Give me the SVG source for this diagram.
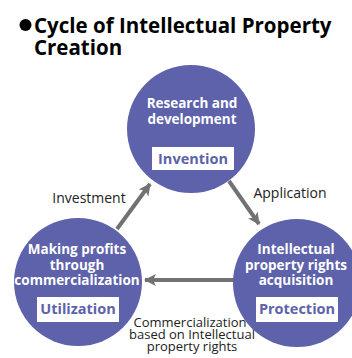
<svg xmlns="http://www.w3.org/2000/svg" width="352" height="358" viewBox="0 0 352 358">
<defs>
<style>
.c{fill:#5d62aa}
.t{font-family:"Open Sans","Liberation Sans",sans-serif;font-weight:bold;font-size:13.5px;fill:#fff;text-anchor:middle}
.b{fill:#fff}
.bt{font-family:"Open Sans","Liberation Sans",sans-serif;font-weight:bold;font-size:14.5px;fill:#5d62aa;text-anchor:middle}
.l{font-family:"Open Sans","Liberation Sans",sans-serif;font-size:14px;fill:#222;text-anchor:middle}
.s{font-family:"Open Sans","Liberation Sans",sans-serif;font-size:13px;fill:#222;text-anchor:middle}
.a{stroke:#727272;stroke-width:4;fill:none}
.title{font-family:"Open Sans","Liberation Sans",sans-serif;font-weight:bold;font-size:20.5px;fill:#000}
</style>
<marker id="ah" markerWidth="12" markerHeight="13" refX="11" refY="6.5" orient="auto" markerUnits="userSpaceOnUse" viewBox="0 0 12 13">
<path d="M0,0.5 L12,6.5 L0,12.5 L3,6.5 Z" fill="#727272"/>
</marker>
</defs>
<g id="title">
<circle cx="25.5" cy="25" r="6" fill="#000"/>
<text class="title" x="34" y="33">Cycle of Intellectual Property</text>
<text class="title" x="34" y="55">Creation</text>
</g>
<g id="connectors">
<line class="a" x1="117" y1="229" x2="150" y2="184" marker-end="url(#ah)"/>
<line class="a" x1="229" y1="181" x2="259" y2="224" marker-end="url(#ah)"/>
<line class="a" x1="234" y1="280" x2="145" y2="280" marker-end="url(#ah)"/>
<text class="l" x="89" y="203">Investment</text>
<text class="l" x="290" y="198">Application</text>
<text class="s" x="190" y="327">Commercialization</text>
<text class="s" x="192" y="339">based on Intellectual</text>
<text class="s" x="192" y="351">property rights</text>
</g>
<g id="invention">
<circle class="c" cx="191" cy="129" r="64"/>
<text class="t" x="192" y="108">Research and</text>
<text class="t" x="192" y="124">development</text>
<rect class="b" x="152" y="147" width="82" height="23"/>
<text class="bt" x="193" y="164">Invention</text>
</g>
<g id="utilization">
<circle class="c" cx="78" cy="282" r="64"/>
<text class="t" x="77" y="254">Making profits</text>
<text class="t" x="77" y="270">through</text>
<text class="t" x="77" y="285">commercialization</text>
<rect class="b" x="37" y="297" width="82" height="25"/>
<text class="bt" x="78" y="314">Utilization</text>
</g>
<g id="protection">
<circle class="c" cx="297" cy="283" r="64"/>
<text class="t" x="296" y="254">Intellectual</text>
<text class="t" x="296" y="270">property rights</text>
<text class="t" x="296" y="285">acquisition</text>
<rect class="b" x="256" y="297" width="82" height="25"/>
<text class="bt" x="297" y="314">Protection</text>
</g>
</svg>
